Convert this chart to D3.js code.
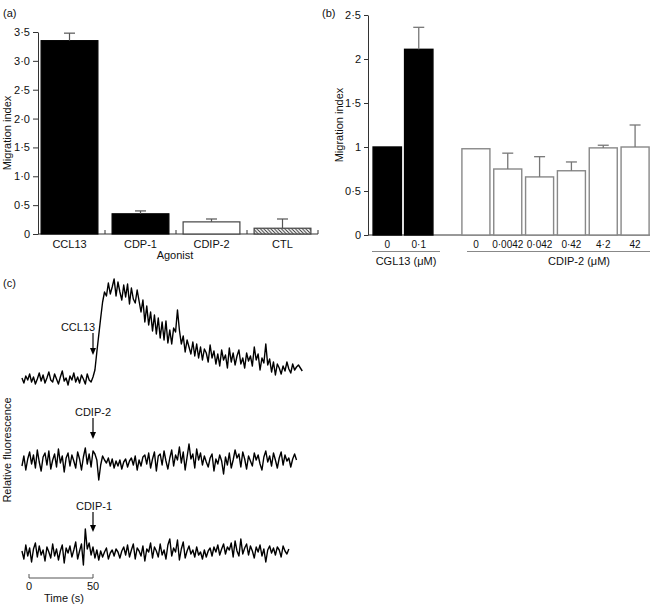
<!DOCTYPE html>
<html><head><meta charset="utf-8">
<script src="https://cdn.jsdelivr.net/npm/d3@7"></script>
<style>
body{margin:0;background:#fff}
svg{display:block}
text{font-family:"Liberation Sans",Arial,Helvetica,sans-serif;font-size:11px;fill:#111}
</style>
</head><body>
<svg id="chart" width="650" height="604"></svg>
<script>
// ---- Panel (a) data ----
const agonists = ["CCL13", "CDP-1", "CDIP-2", "CTL"];
const agonistValues = [3.35, 0.35, 0.21, 0.10];
const agonistErrors = [0.13, 0.05, 0.05, 0.16];
const aTicks = [0, 0.5, 1, 1.5, 2, 2.5, 3, 3.5];

// ---- Panel (b) data ----
const cglDoses = ["0", "0·1"];
const cglValues = [1.0, 2.11];
const cglErrors = [0, 0.25];
const cdipDoses = ["0", "0·0042", "0·042", "0·42", "4·2", "42"];
const cdipValues = [0.98, 0.75, 0.66, 0.73, 0.99, 1.00];
const cdipErrors = [0, 0.18, 0.23, 0.10, 0.03, 0.25];
const bTicks = [0, 0.5, 1, 1.5, 2, 2.5];

// ---- Panel (c) data: relative fluorescence traces (sampled every 1.5 s from t = -5.5 s) ----
const sampleStart = -5.5, sampleStep = 1.5;
const traceCCL13 = [
  2,-3,4,0,6,-2,3,-4,1,7,-1,5,-3,2,8,0,-2,6,1,-4,3,9,-1,2,-5,4,0,7,-2,3,-3,5,1,-4,6,0,-2,3,
  10,28,45,62,78,88,
  84,97,86,93,101,84,98,88,80,95,83,96,76,92,81,77,90,
  79,68,80,58,74,55,68,49,65,46,62,42,58,40,59,37,50,36,52,48,70,
  50,36,44,28,40,33,26,38,24,36,22,33,20,31,27,18,35,22,29,16,
  26,14,30,20,25,12,32,18,27,15,24,30,16,22,12,27,19,24,14,33,20,
  26,10,22,17,36,15,21,8,18,5,16,12,6,14,9,18,11,7,16,10,13,15,12,9
];
const traceCDIP2 = [
  -4,6,-8,3,10,-2,7,-6,12,0,-9,5,
  9,-3,11,-7,2,8,-5,13,-1,6,-10,4,
  9,-4,7,1,-6,10,3,-8,5,14,-2,8,
  -5,11,8,2,-18,-3,6,2,-1,4,-4,3,
  -6,1,-4,2,-7,0,3,-5,1,4,-3,6,
  -8,2,-4,5,7,-2,9,-6,3,10,-9,6,
  8,-3,11,1,-7,4,12,-4,7,2,15,-1,
  10,-8,5,18,3,8,-6,13,2,9,-3,6,
  0,-5,4,8,-9,3,-2,7,1,-12,5,-3,
  9,-6,2,12,4,8,-5,10,3,-7,6,1,
  -4,9,2,7,-2,-8,5,11,0,6,-4,9,
  2,-6,4,10,-3,7,1,4,-5,3,8,2
];
const traceCDIP1 = [
  2,-6,8,-3,5,-9,4,10,-4,7,-2,3,
  -8,6,1,-5,9,-3,4,-7,2,8,-10,5,
  0,7,-4,3,11,-6,2,9,-12,24,4,10,
  -2,6,-5,3,-7,2,-4,1,5,-6,0,3,
  -3,4,1,-5,2,6,-2,8,-4,3,9,-6,
  5,2,-3,7,-8,4,1,10,-5,6,2,-4,
  9,-2,3,-6,8,14,-3,5,1,13,-7,4,
  11,-5,2,7,-1,3,-4,6,-2,1,-6,3,
  -4,2,5,-3,6,1,8,-2,4,9,-1,6,
  3,10,-4,12,2,-3,14,-1,5,9,-2,7,
  2,-5,6,1,8,-3,4,-9,3,7,
  0,5,-2,6,3,-4,7,2,-1,4
];
const traceLabels = ["CCL13", "CDIP-2", "CDIP-1"];
const stimulusTime = 50;

const svg = d3.select("#chart");
const dotFmt1 = d => d === 0 ? "0" : d3.format(".1f")(d).replace(".", "·");
const dotFmtB = d => d === 0 ? "0" : (Number.isInteger(d) ? String(d) : String(d).replace(".", "·"));

// hatch pattern
const defs = svg.append("defs");
const pat = defs.append("pattern").attr("id", "hatch").attr("patternUnits", "userSpaceOnUse")
  .attr("width", 3.5).attr("height", 3.5);
pat.append("rect").attr("width", 3.5).attr("height", 3.5).attr("fill", "#fff");
pat.append("path").attr("d", "M-1,-1 L4.5,4.5 M-1,2.5 L1,4.5 M2.5,-1 L4.5,1").attr("stroke", "#333").attr("stroke-width", 1);

function styleAxis(g) {
  g.selectAll("path,line").attr("stroke", "#333").attr("stroke-width", 1);
  g.selectAll("text").style("font-size", "11px").attr("fill", "#111");
}

// ================= Panel (a) =================
{
  const g = svg.append("g");
  const y = d3.scaleLinear().domain([0, 3.5]).range([234, 32]);
  const x = d3.scaleBand().domain(agonists).range([34, 318]).paddingInner(0.2).paddingOuter(0.1);
  g.append("text").attr("x", 3).attr("y", 17).text("(a)");
  g.append("g").attr("transform", "translate(38,0)")
    .call(d3.axisLeft(y).tickValues(aTicks).tickSize(5).tickSizeOuter(0).tickPadding(3).tickFormat(dotFmt1))
    .call(styleAxis);
  g.append("line").attr("x1", 38).attr("x2", 318).attr("y1", y(0)).attr("y2", y(0)).attr("stroke", "#333");
  const gap = (x.step() - x.bandwidth()) / 2;
  const bounds = agonists.slice(1).map(d => x(d) - gap).concat([x.range()[1]]);
  g.selectAll(".bt").data(bounds).join("line")
    .attr("x1", d => d).attr("x2", d => d).attr("y1", y(0)).attr("y2", y(0) - 4).attr("stroke", "#333");
  const fills = ["#000", "#000", "#fff", "url(#hatch)"];
  const strokes = ["#000", "#000", "#444", "#444"];
  g.selectAll(".bar").data(agonists).join("rect")
    .attr("x", d => x(d)).attr("width", x.bandwidth())
    .attr("y", (d, i) => y(agonistValues[i])).attr("height", (d, i) => y(0) - y(agonistValues[i]))
    .attr("fill", (d, i) => fills[i]).attr("stroke", (d, i) => strokes[i]).attr("stroke-width", 1.2);
  agonists.forEach((d, i) => {
    const cx = x(d) + x.bandwidth() / 2;
    const top = y(agonistValues[i] + agonistErrors[i]);
    g.append("line").attr("x1", cx).attr("x2", cx).attr("y1", y(agonistValues[i])).attr("y2", top).attr("stroke", "#555").attr("stroke-width", 1.2);
    g.append("line").attr("x1", cx - 5.5).attr("x2", cx + 5.5).attr("y1", top).attr("y2", top).attr("stroke", "#555").attr("stroke-width", 1.2);
    g.append("text").attr("x", cx).attr("y", 247.5).attr("text-anchor", "middle").text(d);
  });
  g.append("text").attr("x", 175).attr("y", 259).attr("text-anchor", "middle").text("Agonist");
  g.append("text").attr("transform", "translate(7,133) rotate(-90)").attr("text-anchor", "middle")
    .attr("dominant-baseline", "central").text("Migration index");
}

// ================= Panel (b) =================
{
  const g = svg.append("g");
  const y = d3.scaleLinear().domain([0, 2.5]).range([235, 15]);
  const xg = d3.scaleBand().domain(cglDoses).range([371.5, 434.5]).paddingInner(0.1).paddingOuter(0.05);
  const xc = d3.scaleBand().domain(cdipDoses).range([460, 651]).paddingInner(0.12).paddingOuter(0.06);
  g.append("text").attr("x", 322).attr("y", 17).text("(b)");
  g.append("g").attr("transform", "translate(368,0)")
    .call(d3.axisLeft(y).tickValues(bTicks).tickSize(4).tickSizeOuter(0).tickPadding(3).tickFormat(dotFmtB))
    .call(styleAxis);
  g.append("line").attr("x1", 368).attr("x2", 650).attr("y1", y(0)).attr("y2", y(0)).attr("stroke", "#333");

  function drawGroup(sc, doses, vals, errs, fill, stroke) {
    doses.forEach((d, i) => {
      const cx = sc(d) + sc.bandwidth() / 2;
      g.append("rect").attr("x", sc(d)).attr("width", sc.bandwidth())
        .attr("y", y(vals[i])).attr("height", y(0) - y(vals[i]))
        .attr("fill", fill).attr("stroke", stroke).attr("stroke-width", 1.4);
      if (errs[i] > 0) {
        const top = y(vals[i] + errs[i]);
        g.append("line").attr("x1", cx).attr("x2", cx).attr("y1", y(vals[i])).attr("y2", top).attr("stroke", "#777").attr("stroke-width", 1.3);
        g.append("line").attr("x1", cx - 5.5).attr("x2", cx + 5.5).attr("y1", top).attr("y2", top).attr("stroke", "#777").attr("stroke-width", 1.3);
      }
      g.append("text").attr("x", cx).attr("y", 248).attr("text-anchor", "middle")
        .style("font-size", "10px").text(d);
    });
  }
  drawGroup(xg, cglDoses, cglValues, cglErrors, "#000", "#000");
  drawGroup(xc, cdipDoses, cdipValues, cdipErrors, "#fff", "#888");

  g.append("line").attr("x1", 372).attr("x2", 440).attr("y1", 251.5).attr("y2", 251.5).attr("stroke", "#888");
  g.append("line").attr("x1", 467).attr("x2", 650).attr("y1", 251.5).attr("y2", 251.5).attr("stroke", "#888");
  g.append("text").attr("x", 406).attr("y", 264.5).attr("text-anchor", "middle").text("CGL13 (μM)");
  g.append("text").attr("x", 579).attr("y", 264.5).attr("text-anchor", "middle").text("CDIP-2 (μM)");
  g.append("text").attr("transform", "translate(338.5,125) rotate(-90)").attr("text-anchor", "middle")
    .attr("dominant-baseline", "central").text("Migration index");
}

// ================= Panel (c) =================
{
  const g = svg.append("g");
  g.append("text").attr("x", 3).attr("y", 287).text("(c)");
  const xt = d3.scaleLinear().domain([0, 50]).range([29, 93]);
  const yv = d3.scaleLinear().domain([0, 100]).range([0, -100]);
  const traces = [traceCCL13, traceCDIP2, traceCDIP1];
  const baselines = [380, 462, 553];
  const labelY = [327, 412, 505.5];
  const labelX = [78, 93, 94];
  const arrowY = [[333, 355], [418, 439], [512, 532]];
  const line = d3.line().x((d, i) => xt(sampleStart + i * sampleStep)).y(d => yv(d));
  traces.forEach((tr, k) => {
    g.append("path").datum(tr).attr("d", line).attr("transform", `translate(0,${baselines[k]})`)
      .attr("fill", "none").attr("stroke", "#000").attr("stroke-width", 1.4).attr("stroke-linejoin", "round");
    const ax = xt(stimulusTime);
    g.append("text").attr("x", labelX[k]).attr("y", labelY[k]).attr("text-anchor", "middle")
      .attr("dominant-baseline", "central").text(traceLabels[k]);
    g.append("line").attr("x1", ax).attr("x2", ax).attr("y1", arrowY[k][0]).attr("y2", arrowY[k][1] - 5)
      .attr("stroke", "#000").attr("stroke-width", 1.2);
    g.append("path").attr("d", `M${ax - 3},${arrowY[k][1] - 7} L${ax + 3},${arrowY[k][1] - 7} L${ax},${arrowY[k][1]} Z`).attr("fill", "#000");
  });
  // time scale bar
  g.append("path").attr("d", `M${xt(0)},574 V578 H${xt(50)} V574`).attr("fill", "none").attr("stroke", "#555").attr("stroke-width", 1);
  g.append("text").attr("x", xt(0)).attr("y", 586).attr("text-anchor", "middle").attr("dominant-baseline", "central").text("0");
  g.append("text").attr("x", xt(50)).attr("y", 586).attr("text-anchor", "middle").attr("dominant-baseline", "central").text("50");
  g.append("text").attr("x", 64).attr("y", 598).attr("text-anchor", "middle").attr("dominant-baseline", "central").text("Time (s)");
  g.append("text").attr("transform", "translate(6.5,450) rotate(-90)").attr("text-anchor", "middle")
    .attr("dominant-baseline", "central").text("Relative fluorescence");
}
</script>
</body></html>
